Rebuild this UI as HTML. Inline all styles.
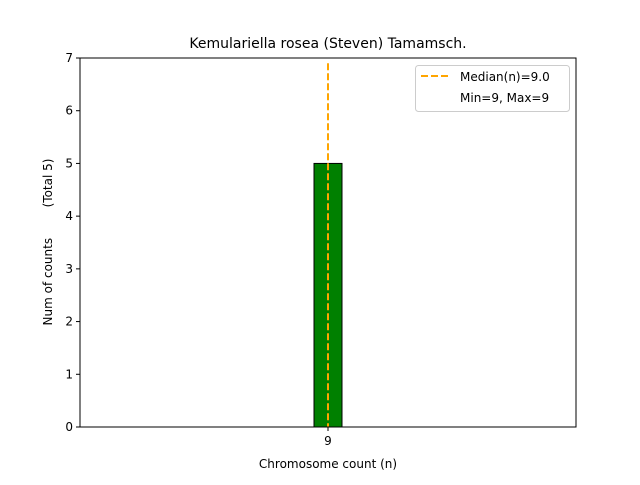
<!DOCTYPE html>
<html><head><meta charset="utf-8"><style>
body{margin:0;background:#fff;font-family:"Liberation Sans","DejaVu Sans",sans-serif}
text{white-space:pre}
</style></head><body>
<svg width="640" height="480" font-family="DejaVu Sans, Liberation Sans, sans-serif">
<rect width="640" height="480" fill="#fff"/>
<g id="plot"></g>
</svg>
<script>
const categories=[9];
const counts=[5];
const medianVal=[9.0];
const yTicks=[0,1,2,3,4,5,6,7];
const xTickLabels=["9"];
const L=80,R=576,T=58,B=427;
const pxPerUnit=28;
const xMin=9-248/pxPerUnit, xMax=xMin+(R-L)/pxPerUnit;
const yMax=7;
const xs=v=>L+(v-xMin)*(R-L)/(xMax-xMin);
const ys=v=>B-v*(B-T)/yMax;
const NS="http://www.w3.org/2000/svg";
const g=document.getElementById('plot');
function mk(t,a,txt){const e=document.createElementNS(NS,t);for(const k in a)e.setAttribute(k,a[k]);if(txt!==undefined)e.textContent=txt;g.appendChild(e);return e;}
let e;
e=mk('line',{x1:L,y1:B,x2:xs(12.43),y2:B,stroke:'#000','stroke-width':1});


categories.forEach((c,i)=>{
 const b=mk('rect',{x:xs(c-0.5),y:ys(counts[i]),width:xs(c+0.5)-xs(c-0.5),height:B-ys(counts[i]),fill:'#008000',stroke:'#000','stroke-width':1});
 
 
});
e=mk('line',{x1:xs(medianVal[0]),y1:ys(6.9),x2:xs(medianVal[0]),y2:B,stroke:'#ffa500','stroke-width':2,'stroke-dasharray':'7,3'});


e=mk('rect',{x:L,y:T,width:R-L,height:B-T,fill:'none',stroke:'#000','stroke-width':1});


yTicks.forEach(t=>{
 const y=ys(t);
 e=mk('line',{x1:L-4,y1:y,x2:L,y2:y,stroke:'#000'});
 
 
 e=mk('text',{x:L-7,y:y+4,'text-anchor':'end','font-size':12},String(t));
 
 
});
categories.forEach((c,i)=>{
 e=mk('line',{x1:xs(c),y1:B,x2:xs(c),y2:B+4,stroke:'#000'});
 
 
 e=mk('text',{x:xs(c),y:B+18,'text-anchor':'middle','font-size':12},xTickLabels[i]);
 
 
});
e=mk('text',{x:328,y:48,'text-anchor':'middle','font-size':14},'Kemulariella rosea (Steven) Tamamsch.');


e=mk('text',{x:328,y:468,'text-anchor':'middle','font-size':12},'Chromosome count (n)');


e=mk('text',{x:52,y:242,'text-anchor':'middle','font-size':12,transform:'rotate(-90 52 242)'},'Num of counts        (Total 5)');


e=mk('rect',{x:415.5,y:65.5,width:154,height:46,rx:3,fill:'#fff','fill-opacity':0.8,stroke:'#ccc'});


e=mk('line',{x1:421,y1:76,x2:449,y2:76,stroke:'#ffa500','stroke-width':2,'stroke-dasharray':'7,3'});


e=mk('text',{x:460,y:81,'font-size':12},'Median(n)='+medianVal[0].toFixed(1));


e=mk('text',{x:460,y:102,'font-size':12},'Min=9, Max=9');


</script>
</body></html>
